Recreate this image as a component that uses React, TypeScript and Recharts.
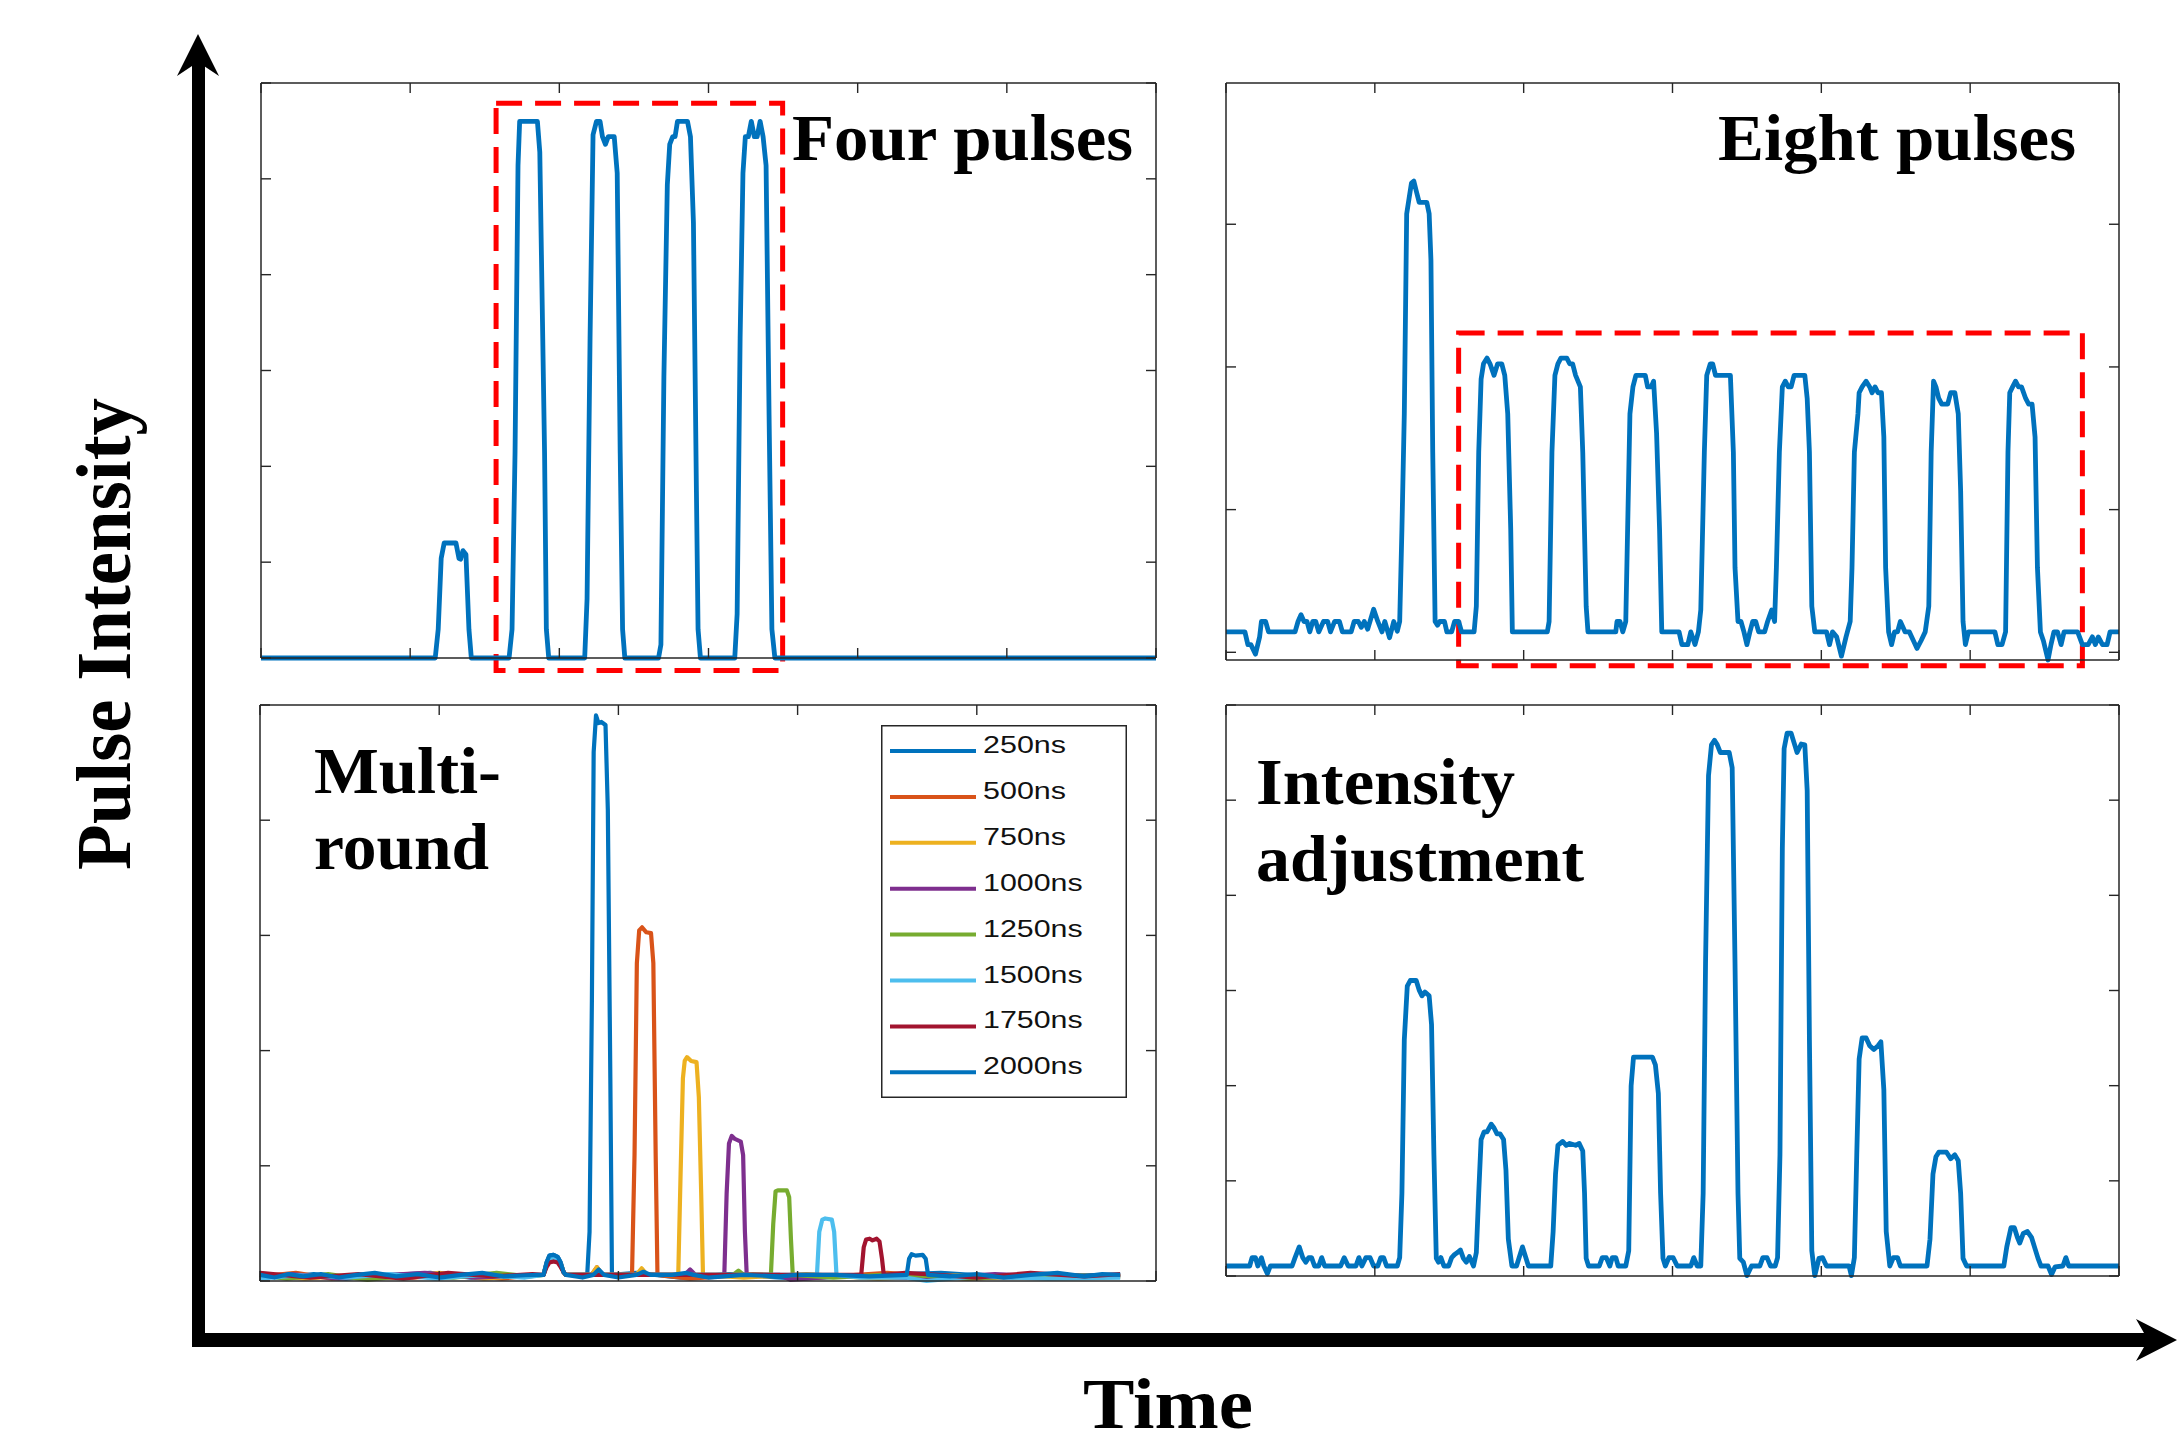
import { Legend, Line, LineChart, ReferenceArea, XAxis, YAxis } from 'recharts';

type Pt = [number, number];

// time (arbitrary units) / intensity
const fourPulses: Pt[] = [
  [0, 0], [116.8, 0], [118.8, 0.3], [120.8, 1.04], [122.8, 1.2], [130.7, 1.2], [132.7, 1.04], [133.8, 1.03],
  [135.4, 1.12], [137.4, 1.08], [139.4, 0.3], [141, 0],
  [166.3, 0], [168.3, 0.3], [170.3, 2.14], [172.3, 5.14], [173.4, 5.6], [185.3, 5.6], [186.9, 5.28], [190.1, 2.14],
  [191.3, 0.3], [192.9, 0],
  [217, 0], [218.6, 0.62], [220.6, 3.34], [222.6, 5.46], [224.9, 5.6], [227.3, 5.6], [228.9, 5.44], [230.9, 5.36],
  [232.8, 5.44], [236.8, 5.44], [238.8, 5.06], [240.8, 2.14], [242.4, 0.3], [243.9, 0],
  [266.5, 0], [268.1, 0.14], [270.1, 2.94], [272.4, 4.94], [274, 5.36], [276, 5.44], [277.6, 5.44], [279.2, 5.6],
  [285.9, 5.6], [287.9, 5.44], [289.9, 4.54], [291.9, 1.74], [293, 0.3], [294.6, 0],
  [317.6, 0], [319.2, 0.46], [321.2, 3.34], [323.1, 5.06], [324.7, 5.44], [326.7, 5.44], [328.7, 5.6], [330.7, 5.44],
  [332.6, 5.44], [334.6, 5.6], [336.6, 5.44], [338.6, 5.14], [340.6, 2.54], [342.5, 0.3], [344.5, 0],
  [600, 0],
];

const eightPulses: Pt[] = [
  [0, 0.143], [12.7, 0.143], [14.7, 0.054], [16.7, 0.054], [19.8, -0.013], [22.6, 0.108], [23.8, 0.216], [26.6, 0.216],
  [28.6, 0.143], [46.4, 0.143], [48.4, 0.216], [50.4, 0.264], [52.4, 0.216], [54.4, 0.216], [56.3, 0.143], [58.3, 0.216],
  [60.3, 0.216], [62.3, 0.143], [65.5, 0.216], [68.3, 0.216], [70.2, 0.143], [73, 0.216], [76.2, 0.216], [78.2, 0.143],
  [84.1, 0.143], [86.1, 0.216], [88.9, 0.216], [90.9, 0.175], [92.9, 0.216], [95.2, 0.162], [99.2, 0.302], [102, 0.216],
  [104.8, 0.143], [106.7, 0.216], [109.9, 0.102], [112.7, 0.216], [115.1, 0.148], [116.7, 0.216], [118.2, 0.863],
  [119.8, 1.671], [121.4, 3.073], [123, 3.181], [124.6, 3.288], [126.2, 3.302], [127.8, 3.235], [129.8, 3.154],
  [134.9, 3.154], [136.5, 3.073], [137.7, 2.749], [138.9, 1.402], [140.5, 0.216], [142.1, 0.189], [143.6, 0.216],
  [146.8, 0.216], [148.4, 0.143], [151.6, 0.143], [153.6, 0.216], [156.3, 0.216], [158.3, 0.143], [166.7, 0.143],
  [168.2, 0.323], [169.8, 1.402], [171.4, 1.914], [173, 2.022], [175.4, 2.062], [177.4, 2.022], [180.1, 1.941],
  [182.5, 2.022], [185.3, 2.022], [187.3, 1.941], [189.3, 1.671], [191.3, 0.863], [192.4, 0.143],
  [215.9, 0.143], [217.1, 0.216], [219, 1.402], [221, 1.941], [223, 2.022], [225, 2.062], [229, 2.062], [230.9, 2.022],
  [232.9, 2.022], [234.9, 1.941], [238.1, 1.86], [239.7, 1.402], [242, 0.323], [243.2, 0.143],
  [261.9, 0.143], [262.7, 0.216], [264.7, 0.216], [266.6, 0.143], [268.6, 0.216], [271.4, 1.671], [273.4, 1.86],
  [275.4, 1.941], [281.7, 1.941], [283.3, 1.86], [285.7, 1.86], [287.3, 1.9], [289.3, 1.536], [291.3, 0.863],
  [292.8, 0.143],
  [304.4, 0.143], [306.3, 0.054], [310.3, 0.054], [312.3, 0.143], [315.1, 0.054], [317.4, 0.143], [319, 0.296],
  [321.4, 1.402], [323, 1.941], [325.4, 2.022], [327, 2.022], [328.9, 1.941], [338.9, 1.941], [340.9, 1.402],
  [342, 0.593], [344, 0.216], [346, 0.216], [348, 0.143], [350, 0.054], [352, 0.143], [353.9, 0.216], [355.9, 0.216],
  [357.9, 0.143], [361.9, 0.143], [363.9, 0.216], [366.6, 0.296], [368.6, 0.216], [369.8, 0.593], [371.8, 1.402],
  [373.8, 1.86], [375.8, 1.9], [377.8, 1.86], [379.7, 1.86], [381.7, 1.941], [388.9, 1.941], [390.5, 1.779],
  [392, 1.402], [393.6, 0.323], [395.6, 0.143],
  [403.5, 0.143], [405.5, 0.054], [407.5, 0.143], [410.3, 0.108], [413.5, -0.027], [416.6, 0.108], [419.4, 0.216],
  [420.6, 0.593], [422.2, 1.402], [424.6, 1.671], [425.4, 1.819], [427.4, 1.86], [430.1, 1.9], [432.5, 1.86],
  [434.1, 1.819], [436.1, 1.86], [438.1, 1.819], [440.4, 1.819], [442, 1.509], [443.2, 0.593], [445.2, 0.143],
  [447.2, 0.054], [449.2, 0.143], [451.2, 0.143], [453.1, 0.216], [456.3, 0.143], [459.1, 0.143], [461.9, 0.081],
  [464.3, 0.027], [467, 0.081], [469.8, 0.143], [472.2, 0.323], [473.8, 1.402], [475.4, 1.9], [477, 1.86],
  [478.9, 1.779], [480.9, 1.739], [484.9, 1.739], [486.9, 1.819], [489.7, 1.819], [492, 1.671], [493.6, 1.132],
  [495.2, 0.216], [496.8, 0.054], [498.8, 0.143],
  [516.6, 0.143], [518.6, 0.054], [521.4, 0.054], [523.8, 0.143], [525.4, 1.402], [526.6, 1.819], [528.5, 1.86],
  [530.5, 1.9], [532.5, 1.86], [534.5, 1.86], [537.3, 1.779], [539.3, 1.739], [541.6, 1.739], [543.6, 1.509],
  [545.2, 0.593], [547.2, 0.143], [549.2, 0.081], [552.3, -0.054], [554.3, 0.054], [556.3, 0.143], [558.7, 0.143],
  [561.1, 0.054], [563.1, 0.143], [572.2, 0.143], [575.4, 0.054], [579.3, 0.054], [582.1, 0.108], [584.1, 0.054],
  [586.1, 0.108], [588.9, 0.054], [592, 0.054], [594, 0.143], [600, 0.143],
];

const adjustPulses: Pt[] = [
  [0, 0.105], [15.9, 0.105], [17.5, 0.193], [19.8, 0.193], [21.4, 0.105], [23.8, 0.193], [25.4, 0.105], [27.8, 0.024],
  [29.8, 0.105], [44.4, 0.105], [46.4, 0.193], [49.2, 0.306], [51.6, 0.193], [53.6, 0.145], [55.6, 0.193],
  [57.5, 0.193], [59.5, 0.105], [62.3, 0.105], [64.3, 0.193], [66.3, 0.105], [77, 0.105], [79.4, 0.193], [82.1, 0.105],
  [87.3, 0.105], [89.3, 0.193], [91.3, 0.105], [94, 0.193], [96.8, 0.193], [99.2, 0.105], [102, 0.105], [104, 0.193],
  [105.9, 0.193], [107.9, 0.105], [115.1, 0.105], [116.7, 0.193], [118.2, 0.87], [119.8, 2.481], [121.8, 3.045],
  [123.8, 3.105], [127.8, 3.105], [129.8, 3.004], [131.7, 2.944], [133.7, 2.984], [136.5, 2.944], [138.1, 2.642],
  [139.7, 1.273], [141.3, 0.185], [142.8, 0.145], [144.4, 0.193], [146.4, 0.105], [149.6, 0.105], [151.6, 0.193],
  [153.6, 0.226], [155.5, 0.246], [157.5, 0.274], [159.5, 0.185], [161.5, 0.145], [163.5, 0.205], [166.3, 0.105],
  [168.2, 0.246], [169.8, 0.87], [171.4, 1.434], [173.4, 1.514], [175.4, 1.514], [178.2, 1.595], [180.1, 1.555],
  [182.1, 1.494], [184.1, 1.494], [186.5, 1.434], [188.1, 1.112], [189.7, 0.387], [192.1, 0.105], [195.2, 0.105],
  [199.2, 0.306], [203.2, 0.105], [218.2, 0.105], [219.8, 0.467], [221.4, 1.071], [223, 1.373], [226.2, 1.414],
  [228.6, 1.373], [230.9, 1.393], [234.9, 1.373], [237.3, 1.393], [239.7, 1.313], [240.9, 0.87], [242, 0.185],
  [243.6, 0.105], [250.8, 0.105], [252.8, 0.193], [255.5, 0.193], [257.9, 0.105], [259.5, 0.193], [261.9, 0.193],
  [263.5, 0.105], [268.6, 0.105], [270.6, 0.266], [272.2, 1.998], [273.8, 2.3], [286.5, 2.3], [288.5, 2.219],
  [290.5, 1.917], [292, 0.87], [293.6, 0.185], [295.2, 0.105], [297.6, 0.193], [300.4, 0.193], [303.2, 0.105],
  [312.3, 0.105], [314.3, 0.193], [316.6, 0.105], [319, 0.105], [320.6, 0.87], [322.2, 3.286], [324.2, 5.26],
  [326.2, 5.582], [328.2, 5.63], [330.1, 5.582], [332.1, 5.501], [338.1, 5.501], [340.1, 5.34], [342, 3.286],
  [344, 0.87], [345.2, 0.185], [347.6, 0.145], [350, 0.004], [353.1, 0.105], [358.7, 0.105], [360.7, 0.193],
  [363.5, 0.193], [365.9, 0.105], [369, 0.105], [370.6, 0.193], [372.2, 1.273], [373.8, 4.495], [375, 5.542],
  [377, 5.703], [379.7, 5.703], [381.7, 5.602], [383.7, 5.501], [386.5, 5.59], [388.9, 5.582], [390.5, 5.099],
  [392, 2.481], [393.6, 0.266], [395.6, 0.004], [398.4, 0.185], [400.8, 0.193], [403.5, 0.105], [418.6, 0.105],
  [420.2, 0.004], [422.2, 0.193], [423.8, 1.273], [425.4, 2.28], [427.4, 2.501], [430.1, 2.501], [432.5, 2.42],
  [435.3, 2.38], [438.1, 2.42], [440, 2.461], [442, 1.957], [443.6, 0.467], [446, 0.105], [448.4, 0.193],
  [451.2, 0.193], [453.1, 0.105], [471, 0.105], [473, 0.387], [475, 1.071], [477, 1.253], [478.9, 1.301],
  [484.1, 1.301], [486.9, 1.232], [489.7, 1.273], [492, 1.212], [493.6, 0.87], [495.2, 0.185], [497.6, 0.105],
  [522.6, 0.105], [524.6, 0.306], [527.4, 0.507], [529.7, 0.507], [531.7, 0.407], [533.3, 0.346], [535.7, 0.447],
  [538.5, 0.467], [541.2, 0.407], [543.2, 0.306], [545.6, 0.185], [547.6, 0.105], [552.3, 0.105], [554.7, 0.016],
  [557.1, 0.097], [562.3, 0.105], [564.3, 0.193], [566.2, 0.105], [600, 0.105],
];

const round250: Pt[] = [
  [0, 0.05], [12, 0.03], [30, 0.06], [48, 0.02], [70, 0.05], [95, 0.07], [118, 0.03], [140, 0.05], [158.2, 0.053],
  [159.9, 0.16], [161.5, 0.22], [163.8, 0.227], [166.1, 0.21], [167.8, 0.16], [169.4, 0.077], [170.7, 0.053],
  [182.6, 0.053], [183.9, 0.427], [185.2, 2.427], [186.2, 4.593], [187.5, 4.91], [188.9, 4.843], [190.5, 4.853],
  [192.8, 4.827], [194.1, 4.093], [195.5, 1.76], [196.4, 0.053], [210, 0.07], [235, 0.03], [262, 0.06], [300, 0.02],
  [340, 0.05], [380, 0.07], [420, 0.03], [455, 0.05], [480, 0.053],
];
const round500: Pt[] = [
  [0, 0.04], [20, 0.07], [40, 0.02], [62, 0.05], [85, 0.03], [110, 0.06], [135, 0.02], [152, 0.05], [158.2, 0.053],
  [159.9, 0.15], [161.5, 0.21], [163.8, 0.22], [166.1, 0.2], [167.8, 0.15], [169.4, 0.077], [170.7, 0.053],
  [185, 0.053], [188, 0.12], [191, 0.053], [207.6, 0.053], [209, 1.093], [210.3, 2.76], [211.6, 3.043], [213.2, 3.07],
  [215.6, 3.027], [218.2, 3.02], [219.5, 2.76], [220.8, 1.093], [221.8, 0.053], [240, 0.02], [275, 0.06], [310, 0.03],
  [350, 0.07], [395, 0.02], [440, 0.05], [480, 0.04],
];
const round750: Pt[] = [
  [0, 0.06], [25, 0.02], [50, 0.05], [75, 0.03], [100, 0.07], [125, 0.02], [150, 0.05], [158.2, 0.053], [159.9, 0.15],
  [161.5, 0.21], [163.8, 0.22], [166.1, 0.2], [167.8, 0.15], [169.4, 0.077], [170.7, 0.053], [185, 0.053], [188, 0.12],
  [191, 0.053], [210, 0.053], [213, 0.11], [216, 0.053], [233.4, 0.053], [234.7, 0.927], [236, 1.76], [237, 1.91],
  [238.3, 1.943], [240.6, 1.91], [243.6, 1.9], [244.9, 1.593], [246.2, 0.76], [247.2, 0.053], [270, 0.03], [305, 0.06],
  [345, 0.02], [390, 0.05], [430, 0.03], [480, 0.05],
];
const round1000: Pt[] = [
  [0, 0.03], [18, 0.06], [44, 0.02], [68, 0.05], [92, 0.07], [120, 0.03], [146, 0.05], [158.2, 0.053], [159.9, 0.14],
  [161.5, 0.2], [163.8, 0.21], [166.1, 0.19], [167.8, 0.14], [169.4, 0.077], [170.7, 0.053], [213, 0.053],
  [237, 0.053], [240, 0.1], [243, 0.053], [259.1, 0.053], [260.4, 0.76], [261.7, 1.193], [263.3, 1.26], [265, 1.233],
  [268.3, 1.21], [269.6, 1.093], [270.6, 0.427], [271.6, 0.053], [290, 0.053], [296, 0.01], [330, 0.05], [370, 0.02],
  [410, 0.06], [450, 0.03], [480, 0.05],
];
const round1250: Pt[] = [
  [0, 0.05], [15, 0.02], [38, 0.06], [60, 0.01], [84, 0.05], [108, 0.03], [132, 0.07], [150, 0.04], [158.2, 0.053],
  [159.9, 0.14], [161.5, 0.2], [163.8, 0.21], [166.1, 0.19], [167.8, 0.14], [169.4, 0.077], [170.7, 0.053],
  [240, 0.053], [264, 0.053], [267, 0.09], [270, 0.053], [285.1, 0.053], [286.4, 0.493], [287.7, 0.777], [289, 0.787],
  [294, 0.787], [295.3, 0.727], [296.3, 0.36], [297.3, 0.053], [320, 0.03], [355, 0.06], [395, 0.02], [435, 0.05],
  [480, 0.04],
];
const round1500: Pt[] = [
  [0, 0.02], [22, 0.05], [48, 0.03], [72, 0.06], [98, 0.02], [122, 0.05], [148, 0.03], [158.2, 0.053], [159.9, 0.14],
  [161.5, 0.2], [163.8, 0.21], [166.1, 0.19], [167.8, 0.14], [169.4, 0.077], [170.7, 0.053], [290, 0.053],
  [310.8, 0.053], [312.1, 0.427], [313.8, 0.533], [315.4, 0.543], [319.1, 0.533], [320.4, 0.427], [321.7, 0.053],
  [335, 0.03], [360, 0.03], [372, 0], [400, 0.04], [440, 0.02], [480, 0.03],
];
const round1750: Pt[] = [
  [0, 0.07], [28, 0.03], [55, 0.06], [80, 0.02], [105, 0.07], [130, 0.04], [152, 0.06], [158.2, 0.053], [159.9, 0.12],
  [161.5, 0.16], [163.8, 0.17], [166.1, 0.16], [167.8, 0.12], [169.4, 0.077], [170.7, 0.053], [320, 0.053],
  [335.5, 0.053], [336.9, 0.293], [338.2, 0.36], [340.2, 0.367], [341.8, 0.353], [344.1, 0.367], [345.7, 0.343],
  [347.1, 0.193], [348.1, 0.053], [360, 0.07], [372, 0.06], [400, 0.03], [430, 0.07], [460, 0.04], [480, 0.06],
];
const round2000: Pt[] = [
  [0, 0.053], [8, 0.03], [16, 0.06], [24, 0.04], [34, 0.06], [44, 0.03], [54, 0.053], [64, 0.07], [76, 0.04], [88, 0.06],
  [100, 0.03], [112, 0.053], [124, 0.07], [136, 0.04], [148, 0.05], [155, 0.053], [158.2, 0.053], [159.9, 0.16],
  [161.5, 0.22], [163.8, 0.227], [166.1, 0.21], [167.8, 0.16], [169.4, 0.077], [170.7, 0.053], [180, 0.03],
  [186, 0.053], [189, 0.1], [192, 0.053], [200, 0.03], [210, 0.053], [214, 0.08], [218, 0.053], [230, 0.053],
  [238, 0.07], [242, 0.053], [250, 0.03], [270, 0.053], [290, 0.04], [300, 0.053], [320, 0.053], [340, 0.04],
  [360.9, 0.053], [362.2, 0.193], [363.6, 0.233], [365.8, 0.22], [369.8, 0.227], [371.5, 0.193], [372.8, 0.053],
  [385, 0.04], [400, 0.06], [415, 0.03], [430, 0.053], [445, 0.07], [460, 0.04], [470, 0.06], [480, 0.053],
];

const roundSeries = [round250, round500, round750, round1000, round1250, round1500, round1750, round2000];
const roundNames = ['250ns', '500ns', '750ns', '1000ns', '1250ns', '1500ns', '1750ns', '2000ns'];
const roundColors = ['#0072BD', '#D95319', '#EDB120', '#7E2F8E', '#77AC30', '#4DBEEE', '#A2142F', '#0072BD'];

const ticks600 = [0, 100, 200, 300, 400, 500, 600];
const ticks500 = [0, 100, 200, 300, 400, 500];
const ticks6 = [0, 1, 2, 3, 4, 5, 6];
const ticks5 = [0, 1, 2, 3, 4, 5];
const ticks4 = [0, 1, 2, 3];

// dashed boxes around the pulse trains: [t1, t2, v1, v2]
const fourBox = [157.6, 349.7, -0.13, 5.79];
const eightBox = [156.3, 575.4, -0.094, 2.237];

const M = 20;
const FRAME = '#262626';
const BLUE = '#0072BD';
const SERIF = "'Liberation Serif', 'DejaVu Serif', serif";

const rows = (pts: Pt[]) => pts.map(([t, v]) => ({ t, v }));
const noLabel = () => <g />;

type PanelProps = {
  left: number;
  top: number;
  width: number;
  height: number;
  xDomain: [number, number];
  xTicks: number[];
  yDomain: [number, number];
  yTicks: number[];
  children?: React.ReactNode;
};

// frame on all four sides with inward ticks, like a MATLAB "box on" axes
function Panel({ left, top, width, height, xDomain, xTicks, yDomain, yTicks, children }: PanelProps) {
  const axisLine = { stroke: FRAME, strokeWidth: 1.5 };
  const tickLine = { stroke: FRAME, strokeWidth: 1.4 };
  const common = { interval: 0 as const, tick: noLabel, tickSize: 10, mirror: true, axisLine, tickLine };
  return (
    <div style={{ position: 'absolute', left: left - M, top: top - M }}>
      <LineChart
        width={width + 2 * M}
        height={height + 2 * M}
        margin={{ top: M - 1, right: M - 1, bottom: M - 1, left: M - 1 }}
      >
        <XAxis type="number" dataKey="t" domain={xDomain} ticks={xTicks} height={1} {...common} />
        <XAxis xAxisId="top" orientation="top" type="number" dataKey="t" domain={xDomain} ticks={xTicks}
          allowDataOverflow height={1} {...common} />
        <YAxis type="number" domain={yDomain} ticks={yTicks} width={1} {...common} />
        <YAxis yAxisId="right" orientation="right" type="number" domain={yDomain} ticks={yTicks}
          allowDataOverflow width={1} {...common} />
        {children}
      </LineChart>
    </div>
  );
}

function dashedBox(b: number[]) {
  return (
    <ReferenceArea x1={b[0]} x2={b[1]} y1={b[2]} y2={b[3]} ifOverflow="visible" fill="none" fillOpacity={0}
      stroke="#FF0000" strokeWidth={5} strokeDasharray="26 13" />
  );
}

function RoundLegend(props: any) {
  const items: any[] = [...(props.payload ?? [])].sort(
    (a, b) => roundNames.indexOf(String(a.value)) - roundNames.indexOf(String(b.value)),
  );
  return (
    <svg width={246} height={373} style={{ display: 'block' }}>
      <rect x={0.75} y={0.75} width={244.5} height={371.5} fill="#fff" stroke={FRAME} strokeWidth={1.5} />
      {items.map((it, i) => {
        const y = 26 + i * 45.9;
        const label = String(it.value);
        return (
          <g key={label + i}>
            <line x1={9} x2={95} y1={y} y2={y} stroke={it.color} strokeWidth={4} />
            <text x={102} y={y + 2} fontFamily="'Liberation Sans', Arial, sans-serif" fontSize={23} fill="#111"
              textLength={label.length * 16.6} lengthAdjust="spacingAndGlyphs">
              {label}
            </text>
          </g>
        );
      })}
    </svg>
  );
}

const lineStyle = { type: 'linear' as const, dot: false, strokeWidth: 4.8, strokeLinejoin: 'round' as const, isAnimationActive: false };

export default function App() {
  const label = { fontFamily: SERIF, fontWeight: 700 as const, fill: '#000' };
  return (
    <div style={{ position: 'absolute', left: 0, top: 0, width: 2178, height: 1446, background: '#fff', overflow: 'hidden' }}>
      <Panel left={262} top={84} width={893} height={573} xDomain={[0, 600]} xTicks={ticks600} yDomain={[0, 6]} yTicks={ticks6}>
        <Line data={rows(fourPulses)} dataKey="v" stroke={BLUE} {...lineStyle} />
        {dashedBox(fourBox)}
      </Panel>

      <Panel left={1227} top={84} width={891} height={575} xDomain={[0, 600]} xTicks={ticks600} yDomain={[-0.054, 3.99]} yTicks={ticks4}>
        <Line data={rows(eightPulses)} dataKey="v" stroke={BLUE} {...lineStyle} />
        {dashedBox(eightBox)}
      </Panel>

      <Panel left={261} top={706} width={894} height={574} xDomain={[0, 500]} xTicks={ticks500} yDomain={[0, 5]} yTicks={ticks5}>
        {roundSeries.map((s, i) => (
          <Line key={roundNames[i]} name={roundNames[i]} data={rows(s)} dataKey="v" stroke={roundColors[i]} {...lineStyle} strokeWidth={4.2} />
        ))}
        <Legend layout="horizontal" verticalAlign="middle" align="center"
          wrapperStyle={{ left: 640, top: 39, width: 246, height: 373 }} content={RoundLegend} />
      </Panel>

      <Panel left={1227} top={706} width={891} height={569} xDomain={[0, 600]} xTicks={ticks600} yDomain={[0, 6]} yTicks={ticks6}>
        <Line data={rows(adjustPulses)} dataKey="v" stroke={BLUE} {...lineStyle} />
      </Panel>

      <svg width={2178} height={1446} style={{ position: 'absolute', left: 0, top: 0, pointerEvents: 'none' }}>
        <rect x={192} y={60} width={13} height={1287} fill="#000" />
        <polygon points="198,34 219,76 198,62 177,76" fill="#000" />
        <rect x={192} y={1333} width={1958} height={14} fill="#000" />
        <polygon points="2177,1340 2136,1361 2148,1340 2136,1319" fill="#000" />

        <text {...label} x={792} y={160} fontSize={66} textLength={341} lengthAdjust="spacingAndGlyphs">Four pulses</text>
        <text {...label} x={1718} y={160} fontSize={66} textLength={358} lengthAdjust="spacingAndGlyphs">Eight pulses</text>
        <text {...label} x={314} y={793} fontSize={66} textLength={187} lengthAdjust="spacingAndGlyphs">Multi-</text>
        <text {...label} x={314} y={869} fontSize={66} textLength={175} lengthAdjust="spacingAndGlyphs">round</text>
        <text {...label} x={1256} y={804} fontSize={66} textLength={259} lengthAdjust="spacingAndGlyphs">Intensity</text>
        <text {...label} x={1256} y={881} fontSize={66} textLength={328} lengthAdjust="spacingAndGlyphs">adjustment</text>

        <text {...label} x={130} y={634} fontSize={78} textAnchor="middle" transform="rotate(-90 130 634)"
          textLength={472} lengthAdjust="spacingAndGlyphs">Pulse Intensity</text>
        <text {...label} x={1168} y={1428} fontSize={72} textAnchor="middle" textLength={170} lengthAdjust="spacingAndGlyphs">Time</text>
      </svg>
    </div>
  );
}
